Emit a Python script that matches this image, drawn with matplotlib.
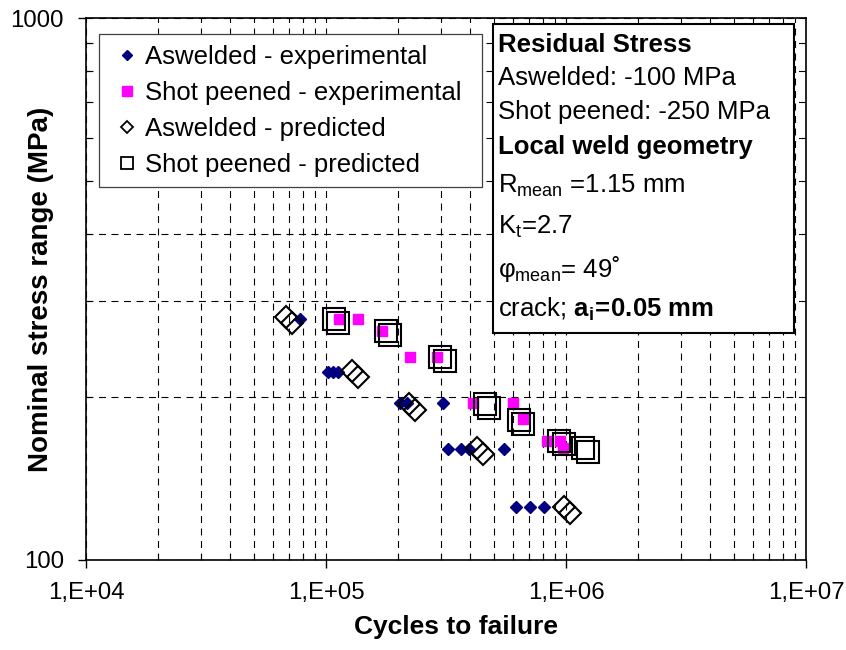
import numpy as np
import matplotlib
matplotlib.use("Agg")
import matplotlib.pyplot as plt
from matplotlib.ticker import FixedLocator, FixedFormatter, LogLocator, NullFormatter
from matplotlib.patches import Rectangle

plt.rcParams['font.family'] = ['Liberation Sans', 'DejaVu Sans']
plt.rcParams['mathtext.fontset'] = 'custom'
plt.rcParams['mathtext.rm'] = 'Liberation Sans'
plt.rcParams['mathtext.it'] = 'Liberation Sans:italic'
plt.rcParams['mathtext.bf'] = 'Liberation Sans:bold'
plt.rcParams['mathtext.default'] = 'regular'
plt.rcParams['lines.scale_dashes'] = False

# values (cycles, MPa)
aw_exp_n = [7.8e4, 1.02e5, 1.07e5, 1.12e5, 2.03e5, 2.18e5, 3.07e5,
            3.22e5, 3.65e5, 3.95e5, 5.52e5, 6.19e5, 7.08e5, 8.1e5]
aw_exp_s = [278, 222, 222, 222, 195, 195, 195,
            160, 160, 160, 160, 125, 125, 125]

sp_exp_n = [1.13e5, 1.36e5, 1.71e5, 2.24e5, 2.90e5, 4.10e5,
            6.01e5, 6.62e5, 8.33e5, 9.44e5, 9.71e5]
sp_exp_s = [278, 278, 265, 237, 237, 195,
            195, 182, 166, 166, 161]

aw_pred_n = [6.81e4, 7.22e4, 1.28e5, 1.36e5, 2.22e5, 2.35e5,
             4.26e5, 4.51e5, 9.81e5, 1.04e6]
aw_pred_s = [281, 274, 223, 218, 194, 189, 161, 157, 125, 122]

sp_pred_n = [1.08e5, 1.12e5, 1.78e5, 1.85e5, 2.99e5, 3.13e5, 4.60e5,
             4.78e5, 6.37e5, 6.62e5, 9.35e5, 9.81e5, 1.18e6, 1.24e6]
sp_pred_s = [278, 274, 265, 260, 237, 233, 194,
             191, 181, 178, 166, 164, 161, 158]

labels = ["Aswelded - experimental", "Shot peened - experimental",
          "Aswelded - predicted", "Shot peened - predicted"]

xticks = [1e4, 1e5, 1e6, 1e7]
xtick_labels = ["1,E+04", "1,E+05", "1,E+06", "1,E+07"]
yticks = [100, 1000]
ytick_labels = ["100", "1000"]

info_lines = [
    (r"Residual Stress", "bold"),
    (r"Aswelded: -100 MPa", "normal"),
    (r"Shot peened: -250 MPa", "normal"),
    (r"Local weld geometry", "bold"),
    (r"R$_{mean}$ =1.15 mm", "normal"),
    (r"K$_t$=2.7", "normal"),
    (r"φ$_{mean}$= 49˚", "normal"),
    (r"crack; $\mathbf{a_i\!=\!0.05\ mm}$", "normal"),
]
info_base = [52, 85, 119, 154, 193, 234, 277, 317]

W, H = 846, 650
fig = plt.figure(figsize=(W / 100, H / 100), dpi=100)
ax = fig.add_axes([86 / W, 1 - 560 / H, 720 / W, 542 / H])

def px(x, y):
    return (x / W, 1 - y / H)

ax.plot(aw_exp_n, aw_exp_s, ls='none', marker='D', ms=6.6, color='#000080',
        mec='#000080', label=labels[0], zorder=3)
ax.plot(sp_exp_n, sp_exp_s, ls='none', marker='s', ms=7.8, color='#ff00ff',
        mec='#ff00ff', label=labels[1], zorder=3)
ax.plot(aw_pred_n, aw_pred_s, ls='none', marker='D', ms=11.5, mfc='none',
        mec='black', mew=1.5, label=labels[2], zorder=4)
ax.plot(sp_pred_n, sp_pred_s, ls='none', marker='s', ms=16, mfc='none',
        mec='black', mew=1.5, label=labels[3], zorder=4)

ax.set_xscale('log')
ax.set_yscale('log')
ax.set_xlim(1e4, 1e7)
ax.set_ylim(100, 1000)

ax.xaxis.set_major_locator(FixedLocator(xticks))
ax.xaxis.set_major_formatter(FixedFormatter(xtick_labels))
ax.yaxis.set_major_locator(FixedLocator(yticks))
ax.yaxis.set_major_formatter(FixedFormatter(ytick_labels))
ax.xaxis.set_minor_locator(LogLocator(base=10, subs=np.arange(2, 10)))
ax.yaxis.set_minor_locator(LogLocator(base=10, subs=np.arange(2, 10)))
ax.xaxis.set_minor_formatter(NullFormatter())
ax.yaxis.set_minor_formatter(NullFormatter())

ax.grid(True, which='both', color='black', lw=0.8, ls=(0, (5, 4)), zorder=0)
ax.set_axisbelow(True)
ax.tick_params(which='major', direction='out', length=6, width=1,
               labelsize=17.3, color='black')
ax.tick_params(axis='x', which='major', pad=10)
ax.tick_params(axis='y', which='major', pad=10)
ax.tick_params(which='minor', direction='in', length=4.5, width=0.8)
for sp in ax.spines.values():
    sp.set_linewidth(1.2)
    sp.set_color('black')

ax.set_xlabel("Cycles to failure", fontsize=19, fontweight='bold')
ax.xaxis.set_label_coords(370 / 720, -(615 - 560) / 542)
ax.set_ylabel("Nominal stress range (MPa)", fontsize=20, fontweight='bold')
ax.yaxis.set_label_coords(-(86 - 54) / 720, 0.5)

leg = ax.legend(loc='upper left',
                bbox_to_anchor=(99 / W, 1 - 35 / H, (482 - 99) / W, 0.001),
                bbox_transform=fig.transFigure, mode='expand',
                fontsize=18.5, frameon=True,
                fancybox=False, edgecolor='#404040', framealpha=1,
                borderpad=0.4, labelspacing=0.47, handlelength=1.35,
                handletextpad=0.05, borderaxespad=0)
leg.get_frame().set_linewidth(0.9)
for h, ms, mew in zip(leg.legend_handles, [5, 7, 6.5, 8.5], [1, 1, 1.3, 1.3]):
    h.set_markersize(ms)
    h.set_markeredgewidth(mew)

fig.add_artist(Rectangle(px(493, 333), 301 / W, 309 / H,
                         transform=fig.transFigure, fc='white', ec='black',
                         lw=1.5, zorder=5))
for (txt, wt), yb in zip(info_lines, info_base):
    fig.text(*px(498, yb), txt, fontsize=18.5, fontweight=wt,
             va='baseline', ha='left', zorder=6)

fig.savefig("out.png", dpi=100)
